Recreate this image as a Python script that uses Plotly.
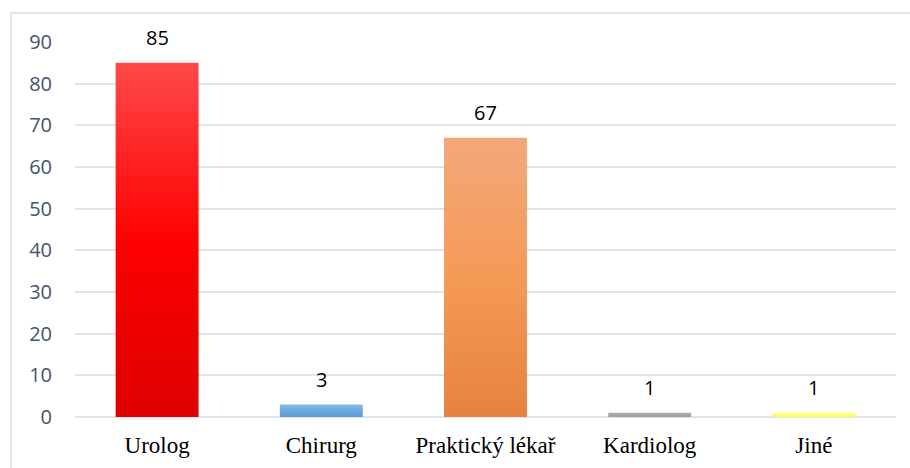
import plotly.graph_objects as go

# Categories and counts
categories = ["Urolog", "Chirurg", "Praktický lékař", "Kardiolog", "Jiné"]
counts = [85, 3, 67, 1, 1]

# Per-bar vertical gradient: bottom, middle, top
bar_gradients = [
    ["#DE0000", "#FF0000", "#FF4A4A"],
    ["#5B9BD5", "#6CA8DE", "#86BBE8"],
    ["#E6823F", "#F59A57", "#F2A87A"],
    ["#A0A0A0", "#A5A5A5", "#AEAEAE"],
    ["#FFFF55", "#FFFF66", "#FFFF80"],
]

y_ticks = list(range(0, 91, 10))
bar_width = 0.505

fig = go.Figure()

for i, (cat, val, grad) in enumerate(zip(categories, counts, bar_gradients)):
    x0, x1 = i - bar_width / 2, i + bar_width / 2
    fig.add_trace(go.Scatter(
        x=[x0, x1, x1, x0, x0],
        y=[0, 0, val, val, 0],
        mode="lines",
        line=dict(width=0, color="rgba(0,0,0,0)"),
        fill="toself",
        fillgradient=dict(
            type="vertical",
            colorscale=[[0, grad[0]], [0.5, grad[1]], [1, grad[2]]],
            start=0,
            stop=val,
        ),
        name=cat,
        hoverinfo="skip",
        showlegend=False,
    ))
    fig.add_annotation(
        x=i, y=val, text=str(val), showarrow=False,
        yanchor="bottom", yshift=10,
        font=dict(family="Open Sans", size=20, color="#000000"),
    )

# Outer chart frame
fig.add_shape(
    type="rect", xref="paper", yref="paper",
    x0=-0.078, x1=1.03, y0=-0.2, y1=1.0773,
    line=dict(color="#DFE4EA", width=2), fillcolor="rgba(0,0,0,0)",
    layer="below",
)

fig.update_layout(
    width=910, height=468,
    margin=dict(l=75, r=14, t=42, b=51),
    paper_bgcolor="white", plot_bgcolor="white",
    showlegend=False,
)

fig.update_xaxes(
    range=[-0.5, 4.5],
    tickmode="array", tickvals=list(range(len(categories))), ticktext=categories,
    tickfont=dict(family="Liberation Serif", size=23, color="#000000"),
    showgrid=False, zeroline=False, showline=False,
    ticks="", ticklabelstandoff=12, automargin=False,
    fixedrange=True,
)
fig.update_yaxes(
    range=[0, 90],
    tickmode="array", tickvals=y_ticks,
    tickfont=dict(family="Open Sans", size=20, color="#44546A"),
    showgrid=True, gridcolor="#E1E5EB", gridwidth=1.5,
    zeroline=True, zerolinecolor="#E1E5EB", zerolinewidth=1.5,
    showline=False, ticks="", ticklabelstandoff=22, automargin=False,
    fixedrange=True,
)

fig.write_html("out.html")
